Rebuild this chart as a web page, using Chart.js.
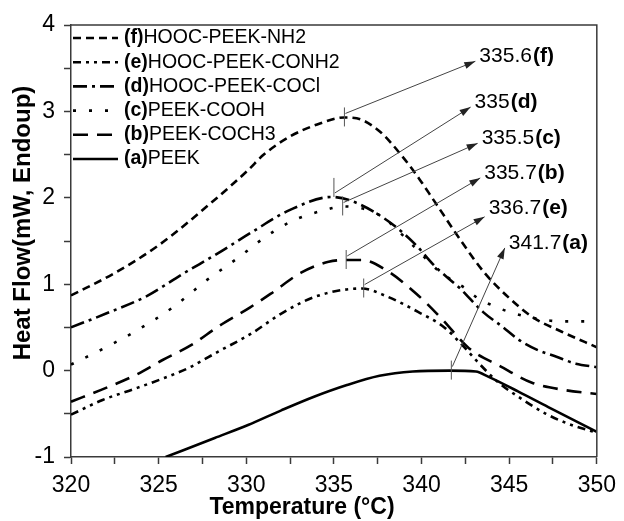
<!DOCTYPE html>
<html>
<head>
<meta charset="utf-8">
<script src="https://cdn.jsdelivr.net/npm/chart.js@4.4.1/dist/chart.umd.min.js"></script>
<style>
  html, body { margin: 0; padding: 0; background: #fff; }
  canvas { display: block; }
</style>
</head>
<body>
<canvas id="dsc" width="624" height="521"></canvas>
<script>
// heat flow curves (temperature in °C, heat flow in mW)
const tempA = [325.4, 328.2, 330.1, 332, 333.9, 335.7, 337.6, 339.5, 341.6, 343.1, 343.8, 345.5, 347.4, 350];
const flowA = [-1.0, -0.78, -0.63, -0.46, -0.3, -0.17, -0.06, -0.01, 0.0, -0.01, -0.07, -0.24, -0.44, -0.71];

const tempB = [320, 322, 323.7, 325.2, 326.9, 328.4, 330.2, 331.4, 333.1, 334.7, 335.7, 336.6, 338, 339.7, 341.2, 342.7, 344.5, 346.3, 348, 350];
const flowB = [-0.36, -0.2, -0.05, 0.12, 0.3, 0.51, 0.73, 0.89, 1.13, 1.26, 1.28, 1.28, 1.16, 0.89, 0.59, 0.26, 0.05, -0.14, -0.22, -0.27];

const tempC = [320, 321.9, 323.8, 325.8, 327.7, 329.7, 330.7, 332.5, 334.5, 335.5, 337.6, 339.5, 341, 342.5, 343.2, 344.2, 345, 346.1, 348, 350];
const flowC = [0.07, 0.26, 0.47, 0.73, 1.04, 1.33, 1.49, 1.72, 1.86, 1.9, 1.8, 1.45, 1.15, 0.95, 0.84, 0.74, 0.68, 0.62, 0.57, 0.57];

const tempD = [320, 322, 324.3, 326.3, 328.4, 330.3, 332.5, 334.9, 336.3, 338.3, 339.6, 340.8, 342.2, 343.5, 344.6, 345.6, 346.6, 347.7, 348.8, 350];
const flowD = [0.5, 0.66, 0.86, 1.11, 1.36, 1.6, 1.86, 2.01, 1.94, 1.7, 1.47, 1.2, 0.95, 0.68, 0.51, 0.35, 0.24, 0.16, 0.08, 0.04];

const tempE = [320, 321.8, 323.5, 325, 326.7, 328.4, 330.3, 332, 334, 336.6, 338, 339.8, 341.3, 342.3, 343.2, 344.4, 345.5, 347.1, 348.3, 350];
const flowE = [-0.51, -0.34, -0.22, -0.11, 0.03, 0.22, 0.43, 0.66, 0.86, 0.95, 0.86, 0.68, 0.5, 0.3, 0.1, -0.14, -0.3, -0.5, -0.61, -0.72];

const tempF = [320, 322.5, 325, 328.1, 330.1, 331, 332.5, 334.2, 335.6, 336.3, 337.6, 338.9, 339.9, 340.7, 342.5, 343.6, 345, 346.4, 348, 350];
const flowF = [0.87, 1.13, 1.45, 1.96, 2.32, 2.5, 2.71, 2.86, 2.93, 2.92, 2.77, 2.48, 2.21, 1.97, 1.43, 1.13, 0.84, 0.61, 0.45, 0.27];

const seriesTags = ['(a)', '(b)', '(c)', '(d)', '(e)', '(f)'];
const seriesNames = ['PEEK', 'PEEK-COCH3', 'PEEK-COOH', 'HOOC-PEEK-COCl', 'HOOC-PEEK-CONH2', 'HOOC-PEEK-NH2'];

// peak annotations: where the peak is marked, and where the arrow points to
const peakText = ['341.7', '335.7', '335.5', '335', '336.7', '335.6'];
const peakTemp = [341.7, 335.7, 335.5, 335, 336.7, 335.6];
const peakFlow = [0.0, 1.28, 1.9, 2.01, 0.95, 2.93];
const tipTemp = [344.75, 343.35, 343.2, 342.8, 343.6, 343.07];
const tipFlow = [1.42, 2.23, 2.63, 3.05, 1.78, 3.58];

const xTickLabels = [320, 325, 330, 335, 340, 345, 350];
const yTickLabels = [-1, 0, 1, 2, 3, 4];
const xTitle = 'Temperature (°C)';
const yTitle = 'Heat Flow(mW, Endoup)';

const temps = [tempA, tempB, tempC, tempD, tempE, tempF];
const flows = [flowA, flowB, flowC, flowD, flowE, flowF];
const dashes = [[], [15, 9], [3, 13], [14, 5, 3, 5], [8, 5, 3, 5, 3, 5], [8, 5]];

const FONT = "'Liberation Sans', Arial, sans-serif";
const AXIS = '#3a3a3a';

const datasets = temps.map((t, i) => ({
    label: seriesTags[i] + seriesNames[i],
    data: t.map((x, k) => ({ x: x, y: flows[i][k] })),
    showLine: true,
    borderColor: '#000',
    borderWidth: 2.6,
    borderDash: dashes[i],
    pointRadius: 0,
    cubicInterpolationMode: 'monotone',
    fill: false
}));

const extras = {
    id: 'extras',
    afterDatasetsDraw(chart) {
        const ctx = chart.ctx;
        const a = chart.chartArea;
        const xs = chart.scales.x;
        const ys = chart.scales.y;
        ctx.save();

        // top and right frame
        ctx.strokeStyle = AXIS;
        ctx.lineWidth = 1.5;
        ctx.beginPath();
        ctx.moveTo(a.left, a.top);
        ctx.lineTo(a.right, a.top);
        ctx.lineTo(a.right, a.bottom);
        ctx.stroke();

        // peak markers + arrows + labels
        for (let i = 0; i < peakTemp.length; i++) {
            const px = xs.getPixelForValue(peakTemp[i]);
            const py = ys.getPixelForValue(peakFlow[i]);
            const tx = xs.getPixelForValue(tipTemp[i]);
            const ty = ys.getPixelForValue(tipFlow[i]);

            ctx.strokeStyle = '#555';
            ctx.lineWidth = 1;
            ctx.setLineDash([]);
            ctx.beginPath();
            if (i === 3) {
                ctx.moveTo(px, py - 19); ctx.lineTo(px, py);
            } else {
                ctx.moveTo(px, py - 10); ctx.lineTo(px, py + 9);
            }
            ctx.stroke();

            const sx = px + 1, sy = py - 4;
            ctx.strokeStyle = '#444';
            ctx.beginPath();
            ctx.moveTo(sx, sy);
            ctx.lineTo(tx, ty);
            ctx.stroke();

            const ang = Math.atan2(ty - sy, tx - sx);
            ctx.fillStyle = '#222';
            ctx.beginPath();
            ctx.moveTo(tx, ty);
            ctx.lineTo(tx - 11 * Math.cos(ang) + 3.5 * Math.sin(ang), ty - 11 * Math.sin(ang) - 3.5 * Math.cos(ang));
            ctx.lineTo(tx - 11 * Math.cos(ang) - 3.5 * Math.sin(ang), ty - 11 * Math.sin(ang) + 3.5 * Math.cos(ang));
            ctx.closePath();
            ctx.fill();

            ctx.fillStyle = '#000';
            ctx.textBaseline = 'middle';
            ctx.textAlign = 'left';
            ctx.font = '21px ' + FONT;
            const lx = tx + 4, ly = ty - (i === 4 ? 9 : 5);
            ctx.fillText(peakText[i], lx, ly);
            const w = ctx.measureText(peakText[i]).width;
            ctx.font = 'bold 21px ' + FONT;
            ctx.fillText(seriesTags[i], lx + w + 1, ly);
        }

        // legend, (f) at the top down to (a)
        for (let r = 0; r < 6; r++) {
            const i = 5 - r;
            const y = 38 + r * 24.2;
            ctx.strokeStyle = '#000';
            ctx.lineWidth = 2.6;
            ctx.setLineDash(dashes[i]);
            ctx.beginPath();
            ctx.moveTo(73, y);
            ctx.lineTo(118, y);
            ctx.stroke();
            ctx.setLineDash([]);
            ctx.fillStyle = '#000';
            ctx.textBaseline = 'middle';
            ctx.textAlign = 'left';
            ctx.font = 'bold 19.5px ' + FONT;
            ctx.fillText(seriesTags[i], 124, y);
            const w = ctx.measureText(seriesTags[i]).width;
            ctx.font = '19.5px ' + FONT;
            ctx.fillText(seriesNames[i], 124 + w, y);
        }

        // axis titles (the originals sit off the plot centre)
        ctx.fillStyle = '#000';
        ctx.textAlign = 'center';
        ctx.textBaseline = 'middle';
        ctx.font = 'bold 23px ' + FONT;
        ctx.fillText(xTitle, 302, 508);
        ctx.save();
        ctx.translate(23, 223);
        ctx.rotate(-Math.PI / 2);
        ctx.font = 'bold 24px ' + FONT;
        ctx.fillText(yTitle, 0, 0);
        ctx.restore();

        ctx.restore();
    }
};

new Chart(document.getElementById('dsc'), {
    type: 'scatter',
    data: { datasets: datasets },
    options: {
        responsive: false,
        animation: false,
        events: [],
        layout: { padding: { top: 25, right: 22, left: 0, bottom: 0 } },
        plugins: { legend: { display: false }, tooltip: { enabled: false } },
        scales: {
            x: {
                type: 'linear',
                min: 320,
                max: 350,
                afterFit: (s) => { s.height = 64; },
                afterBuildTicks: (s) => {
                    const t = [];
                    for (let v = 320; v <= 350; v += 2.5) t.push({ value: v });
                    s.ticks = t;
                },
                grid: { drawOnChartArea: false, tickLength: 7, color: AXIS, tickWidth: 1.5 },
                border: { color: AXIS, width: 1.5 },
                ticks: {
                    color: '#000',
                    padding: 8,
                    maxRotation: 0,
                    autoSkip: false,
                    font: { family: FONT, size: 23 },
                    callback: (v) => xTickLabels.includes(v) ? String(v) : ''
                },
                title: { display: false }
            },
            y: {
                min: -1,
                max: 4,
                afterFit: (s) => { s.width = 71; },
                afterBuildTicks: (s) => {
                    const t = [];
                    for (let v = -1; v <= 4.001; v += 0.5) t.push({ value: Math.round(v * 10) / 10 });
                    s.ticks = t;
                },
                grid: { drawOnChartArea: false, tickLength: 7, color: AXIS, tickWidth: 1.5 },
                border: { color: AXIS, width: 1.5 },
                ticks: {
                    color: '#000',
                    padding: 9,
                    autoSkip: false,
                    font: { family: FONT, size: 23 },
                    callback: (v) => yTickLabels.includes(v) ? String(v) : ''
                },
                title: { display: false }
            }
        }
    },
    plugins: [extras]
});
</script>
</body>
</html>
